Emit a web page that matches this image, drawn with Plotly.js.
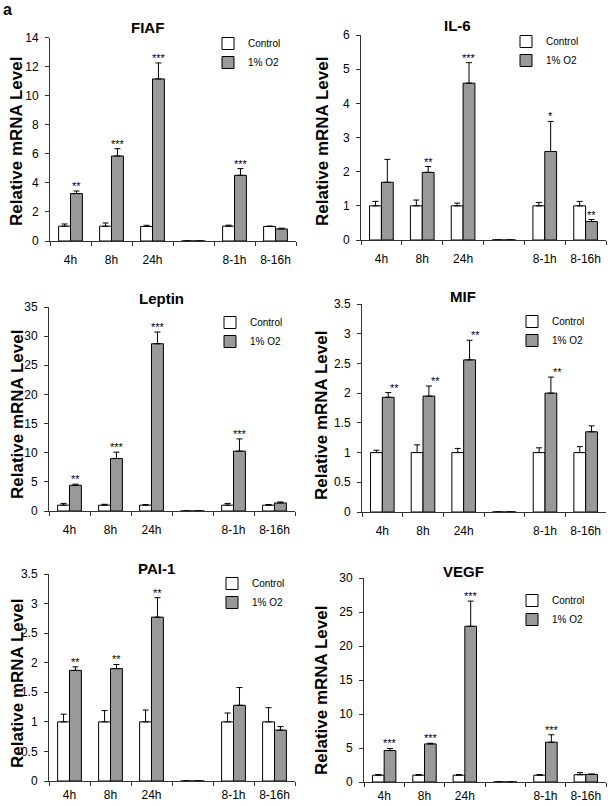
<!DOCTYPE html>
<html><head><meta charset="utf-8">
<script src="https://cdn.plot.ly/plotly-3.0.1.min.js"></script>
<style>html,body{margin:0;padding:0;background:#fff}#chart{width:608px;height:806px}</style>
</head><body><div id="chart"></div>
<script>
// ---- data ----
const categories = ["4h", "8h", "24h", " ", "8-1h", "8-16h"];
const seriesNames = ["Control", "1% O2"];
const panelTitles = ["FIAF", "IL-6", "Leptin", "MIF", "PAI-1", "VEGF"];
const yAxisTitle = "Relative mRNA Level";

const fiafControl    = [1.02, 1.02, 1.0, 0, 1.02, 1.0];
const fiafControlErr = [0.15, 0.22, 0.08, 0, 0.07, 0.03];
const fiafO2         = [3.26, 5.85, 11.15, 0, 4.52, 0.83];
const fiafO2Err      = [0.18, 0.5, 1.1, 0, 0.46, 0.05];
const fiafStars      = ["**", "***", "***", "", "***", ""];

const il6Control    = [1.0, 1.0, 1.0, 0, 1.0, 1.0];
const il6ControlErr = [0.13, 0.17, 0.08, 0, 0.1, 0.13];
const il6O2         = [1.69, 1.98, 4.59, 0, 2.59, 0.54];
const il6O2Err      = [0.67, 0.17, 0.6, 0, 0.88, 0.06];
const il6Stars      = ["", "**", "***", "", "*", "**"];

const leptinControl    = [1.0, 1.0, 1.0, 0, 1.0, 1.0];
const leptinControlErr = [0.3, 0.15, 0.1, 0, 0.3, 0.1];
const leptinO2         = [4.42, 9.0, 28.7, 0, 10.27, 1.38];
const leptinO2Err      = [0.18, 1.1, 2.0, 0, 2.1, 0.17];
const leptinStars      = ["**", "***", "***", "", "***", ""];

const mifControl    = [1.0, 1.0, 1.0, 0, 1.0, 1.0];
const mifControlErr = [0.04, 0.13, 0.07, 0, 0.08, 0.1];
const mifO2         = [1.93, 1.95, 2.56, 0, 2.0, 1.35];
const mifO2Err      = [0.08, 0.17, 0.33, 0, 0.27, 0.1];
const mifStars      = ["**", "**", "**", "", "**", ""];

const pai1Control    = [1.0, 1.0, 1.0, 0, 1.0, 1.0];
const pai1ControlErr = [0.13, 0.19, 0.2, 0, 0.15, 0.24];
const pai1O2         = [1.87, 1.9, 2.77, 0, 1.28, 0.86];
const pai1O2Err      = [0.06, 0.07, 0.33, 0, 0.3, 0.06];
const pai1Stars      = ["**", "**", "**", "", "", ""];

const vegfControl    = [1.0, 1.0, 1.0, 0, 1.0, 1.07];
const vegfControlErr = [0.1, 0.1, 0.1, 0, 0.1, 0.3];
const vegfO2         = [4.63, 5.6, 22.9, 0, 5.85, 1.12];
const vegfO2Err      = [0.3, 0.1, 3.7, 0, 1.1, 0.05];
const vegfStars      = ["***", "***", "***", "", "***", ""];

const yRanges = [[0, 14], [0, 6], [0, 35], [0, 3.5], [0, 3.5], [0, 30]];
const yDticks = [2, 1, 5, 0.5, 0.5, 5];

// ---- layout geometry (pixels) ----
const W = 608, H = 806;
const panels = [
  {ctl: fiafControl, ctlErr: fiafControlErr, o2: fiafO2, o2Err: fiafO2Err, stars: fiafStars,
   x0: 50, x1: 296, yTop: 37.5, yBot: 241, titleX: 147, titleY: 27, legX: 248, legY: 39,
   starShift: 6, ytX: 16, ytY: 142, xStandoff: 8},
  {ctl: il6Control, ctlErr: il6ControlErr, o2: il6O2, o2Err: il6O2Err, stars: il6Stars,
   x0: 361, x1: 606, yTop: 35, yBot: 240, titleX: 457, titleY: 26, legX: 546, legY: 37,
   starShift: 6, ytX: 322, ytY: 142, xStandoff: 8},
  {ctl: leptinControl, ctlErr: leptinControlErr, o2: leptinO2, o2Err: leptinO2Err, stars: leptinStars,
   x0: 49, x1: 295, yTop: 307, yBot: 511, titleX: 161, titleY: 298, legX: 250, legY: 318,
   starShift: 6, ytX: 17, ytY: 415, xStandoff: 8},
  {ctl: mifControl, ctlErr: mifControlErr, o2: mifO2, o2Err: mifO2Err, stars: mifStars,
   x0: 362, x1: 606, yTop: 304, yBot: 512, titleX: 463, titleY: 296, legX: 552, legY: 317,
   starShift: 12, ytX: 321, ytY: 416, xStandoff: 8},
  {ctl: pai1Control, ctlErr: pai1ControlErr, o2: pai1O2, o2Err: pai1O2Err, stars: pai1Stars,
   x0: 49, x1: 295, yTop: 574, yBot: 781, titleX: 156, titleY: 568, legX: 252, legY: 579,
   starShift: 6, ytX: 17, ytY: 684, xStandoff: 3},
  {ctl: vegfControl, ctlErr: vegfControlErr, o2: vegfO2, o2Err: vegfO2Err, stars: vegfStars,
   x0: 364, x1: 606, yTop: 578, yBot: 782, titleX: 463, titleY: 571, legX: 552, legY: 596,
   starShift: 6, ytX: 321, ytY: 691, xStandoff: 3}
];

const FONT = "Liberation Sans, Arial, sans-serif";
const AX = "#333";
const traces = [];
const layout = {
  width: W, height: H,
  margin: {l: 0, r: 0, t: 0, b: 0},
  paper_bgcolor: "#fff", plot_bgcolor: "#fff",
  barmode: "group", bargap: 0.42, bargroupgap: 0,
  font: {family: FONT, color: "#000", size: 12},
  showlegend: true,
  annotations: [{
    text: "a", xref: "paper", yref: "paper", x: 1 / W, y: 1 - 9 / H,
    xanchor: "left", yanchor: "middle", showarrow: false,
    font: {family: FONT, size: 16, weight: "bold", color: "#000"}
  }]
};

panels.forEach((p, i) => {
  const n = i + 1;
  const xa = "x" + (n === 1 ? "" : n), ya = "y" + (n === 1 ? "" : n);
  const legName = n === 1 ? "legend" : "legend" + n;
  const zeros = categories.map(() => 0);
  traces.push({
    type: "bar", x: categories, y: p.ctl, name: seriesNames[0],
    xaxis: xa, yaxis: ya, legend: legName,
    marker: {color: "#ffffff", line: {color: "#000", width: 1}},
    error_y: {type: "data", symmetric: false, array: p.ctlErr, arrayminus: zeros,
              color: "#000", thickness: 1, width: 3},
    hoverinfo: "x+y"
  });
  traces.push({
    type: "bar", x: categories, y: p.o2, name: seriesNames[1],
    xaxis: xa, yaxis: ya, legend: legName,
    marker: {color: "#999999", line: {color: "#000", width: 1}},
    error_y: {type: "data", symmetric: false, array: p.o2Err, arrayminus: zeros,
              color: "#000", thickness: 1, width: 3},
    hoverinfo: "x+y"
  });

  const xKey = "xaxis" + (n === 1 ? "" : n), yKey = "yaxis" + (n === 1 ? "" : n);
  layout[xKey] = {
    domain: [p.x0 / W, p.x1 / W], anchor: ya, type: "category",
    categoryorder: "array", categoryarray: categories, range: [-0.5, 5.5],
    showline: true, linecolor: AX, linewidth: 1, mirror: false,
    ticks: "outside", tickson: "boundaries", ticklen: 4, tickcolor: AX, tickwidth: 1,
    showgrid: false, zeroline: false, fixedrange: true,
    tickfont: {family: FONT, size: 12, color: "#000"}, ticklabelstandoff: p.xStandoff
  };
  layout[yKey] = {
    domain: [1 - p.yBot / H, 1 - p.yTop / H], anchor: xa,
    range: yRanges[i], dtick: yDticks[i], tick0: 0,
    showline: true, linecolor: AX, linewidth: 1,
    ticks: "outside", ticklen: 4, tickcolor: AX, tickwidth: 1,
    showgrid: false, zeroline: false, fixedrange: true,
    tickfont: {family: FONT, size: 12, color: "#000"}, ticklabelstandoff: 4
  };
  layout[legName] = {
    x: (p.legX - 40) / W, y: 1 - (p.legY - 10) / H, xanchor: "left", yanchor: "top",
    bgcolor: "rgba(0,0,0,0)", borderwidth: 0, font: {family: FONT, size: 10, color: "#000"},
    itemwidth: 30, tracegroupgap: 0, traceorder: "normal"
  };
  layout.annotations.push({
    text: panelTitles[i], xref: "paper", yref: "paper",
    x: p.titleX / W, y: 1 - p.titleY / H, xanchor: "center", yanchor: "middle",
    showarrow: false, font: {family: FONT, size: 15, weight: "bold", color: "#000"}
  });
  layout.annotations.push({
    text: yAxisTitle, xref: "paper", yref: "paper", textangle: -90,
    x: p.ytX / W, y: 1 - p.ytY / H, xanchor: "center", yanchor: "middle",
    showarrow: false, font: {family: FONT, size: 17, weight: "bold", color: "#000"}
  });
  p.stars.forEach((s, k) => {
    if (!s) return;
    layout.annotations.push({
      text: s, xref: xa, yref: ya, x: categories[k], y: p.o2[k] + p.o2Err[k],
      xanchor: "center", yanchor: "bottom", showarrow: false,
      xshift: p.starShift, yshift: -3,
      font: {family: FONT, size: 11, color: "#000"}
    });
  });
});

Plotly.newPlot("chart", traces, layout, {displayModeBar: false, staticPlot: true});
</script>
</body></html>
